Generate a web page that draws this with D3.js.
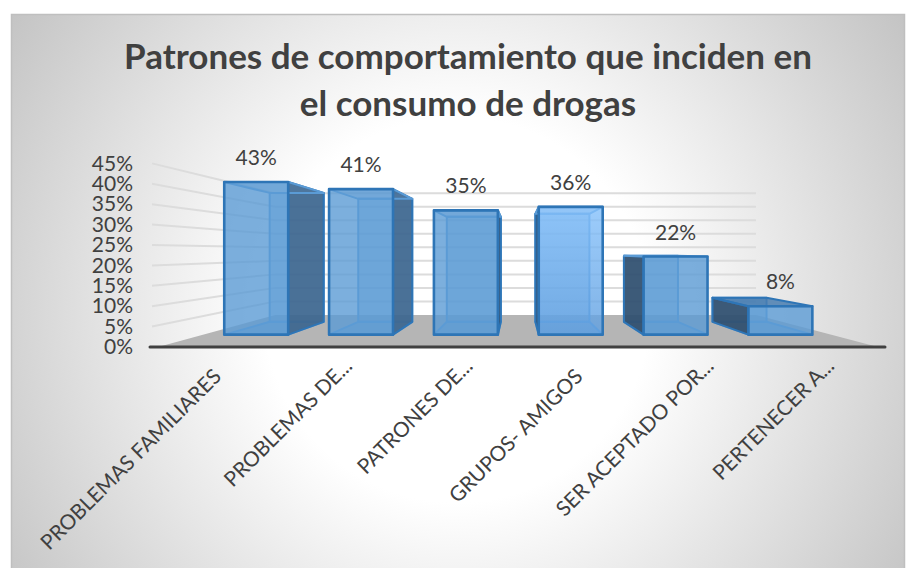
<!DOCTYPE html>
<html>
<head>
<meta charset="utf-8">
<script src="https://cdn.jsdelivr.net/npm/d3@7"></script>
<style>
  html, body { margin: 0; padding: 0; background: #fff; overflow: hidden; }
  svg { display: block; }
  text { font-family: Lato, sans-serif; fill: #404040; }
</style>
</head>
<body>
<div id="chart"></div>
<script>
const categories = ["PROBLEMAS FAMILIARES", "PROBLEMAS DE...", "PATRONES DE...", "GRUPOS- AMIGOS", "SER ACEPTADO POR...", "PERTENECER A..."];
const values = [43, 41, 35, 36, 22, 8];
const valueTicks = [0, 5, 10, 15, 20, 25, 30, 35, 40, 45];
const titleLines = ["Patrones de comportamiento que inciden en", "el consumo de drogas"];

const width = 911, height = 568;

const svg = d3.select("#chart").append("svg")
    .attr("width", width)
    .attr("height", height);

const defs = svg.append("defs");
const bg = defs.append("radialGradient").attr("id", "bg")
    .attr("gradientUnits", "userSpaceOnUse")
    .attr("cx", 457).attr("cy", 310).attr("r", 535);
bg.append("stop").attr("offset", "0.36").attr("stop-color", "#ffffff");
bg.append("stop").attr("offset", "1").attr("stop-color", "#c4c4c4");

// the middle bar catches the light, lighter at the top
const shine = defs.append("linearGradient").attr("id", "shine")
    .attr("x1", 0).attr("y1", 0).attr("x2", 0).attr("y2", 1);
shine.append("stop").attr("offset", "0").attr("stop-color", "#84c0fb");
shine.append("stop").attr("offset", "1").attr("stop-color", "#5f9fe0");

svg.append("rect")
    .attr("x", 11.5).attr("y", 14.5)
    .attr("width", 893).attr("height", 560)
    .attr("fill", "url(#bg)")
    .attr("stroke", "#bfbfbf")
    .attr("stroke-width", 1.5);

// fake 3D: everything is laid out on the front plane, then pulled to the vanishing point
const vp = { x: 517, y: 252 };
const depth = { barFront: 0.87, barBack: 0.735, wall: 0.662 };
const wall = { left: 152, right: 878 };

const x = d3.scaleBand()
    .domain(categories)
    .range([157, 880])
    .paddingInner(0.39)
    .paddingOuter(0.195);

const y = d3.scaleLinear()
    .domain([0, 45])
    .range([347, 163.4]);

function project(px, py, s) {
    return [vp.x + s * (px - vp.x), vp.y + s * (py - vp.y)];
}

const poly = d3.line();

// floor
svg.append("path")
    .attr("d", poly([
        project(wall.left + 6, y(0), 1),
        project(wall.right, y(0), 1),
        project(wall.right, y(0), depth.wall),
        project(wall.left, y(0), depth.wall),
    ]) + "Z")
    .attr("fill", "#b5b5b5");

// gridlines, side wall then back wall
const grid = svg.append("g")
    .attr("fill", "none")
    .attr("stroke", "#dcdcdc")
    .attr("stroke-width", 2);

valueTicks.filter(d => d > 0).forEach(d => {
    grid.append("path").attr("d", poly([
        project(wall.left, y(d), 1),
        project(wall.left, y(d), depth.wall),
        project(wall.right, y(d), depth.wall),
    ]));
});

// bars
const bars = svg.append("g").selectAll("g")
    .data(categories)
    .join("g");

bars.each(function (cat, i) {
    const g = d3.select(this);
    const x0 = x(cat), x1 = x0 + x.bandwidth();
    const yTop = y(values[i]), yBase = y(0);
    const f = (px, py) => project(px, py, depth.barFront);
    const b = (px, py) => project(px, py, depth.barBack);
    const stroke = "#2e75b6";

    // back face and bottom are only seen through the front
    const addFace = (pts, fill, opacity, lineColor, lineWidth) => {
        g.append("path")
            .attr("d", poly(pts) + "Z")
            .attr("fill", fill)
            .attr("fill-opacity", opacity)
            .attr("stroke", lineColor)
            .attr("stroke-width", lineWidth)
            .attr("stroke-linejoin", "round");
    };

    addFace([b(x0, yTop), b(x1, yTop), b(x1, yBase), b(x0, yBase)], "#5b9bd5", 0.45, "#5b9bd5", 2);
    addFace([f(x0, yBase), f(x1, yBase), b(x1, yBase), b(x0, yBase)], "#5b9bd5", 0.5, "#5b9bd5", 2);

    // side face towards the vanishing point
    const barMid = f((x0 + x1) / 2, 0)[0];
    const side = barMid < vp.x ? x1 : x0;
    const sideColor = i < 2 ? "#3b638b" : "#2c4a69";
    addFace([f(side, yTop), b(side, yTop), b(side, yBase), f(side, yBase)], sideColor, 0.88, stroke, 2);

    // top face
    addFace([f(x0, yTop), f(x1, yTop), b(x1, yTop), b(x0, yTop)], "#3f76ab", i === 5 ? 0.8 : 0.25, i === 5 ? stroke : "#5b9bd5", 2);

    // front face
    addFace([f(x0, yTop), f(x1, yTop), f(x1, yBase), f(x0, yBase)], i === 3 ? "url(#shine)" : "#5b9bd5", 0.8, stroke, 2.6);

    // value label
    g.append("text")
        .attr("x", f((x0 + x1) / 2, yTop)[0])
        .attr("y", f((x0 + x1) / 2, yTop)[1] - 17)
        .attr("text-anchor", "middle")
        .attr("font-size", 21)
        .text(values[i] + "%");
});

// y axis
const yAxis = svg.append("g")
    .attr("transform", "translate(138,0)")
    .call(d3.axisLeft(y).tickValues(valueTicks).tickSize(0).tickPadding(5).tickFormat(d => d + "%"));
yAxis.select(".domain").remove();
yAxis.selectAll("text")
    .attr("font-size", 21)
    .style("font-family", "Lato, sans-serif")
    .attr("fill", "#404040");

// x axis on the front plane, labels hang off the tick at 45 degrees
const xAxis = svg.append("g")
    .attr("transform", `translate(0,${y(0)})`)
    .call(d3.axisBottom(x).tickSize(0).tickPadding(0));
xAxis.select(".domain").remove();
xAxis.selectAll("text")
    .attr("font-size", 20.8)
    .style("font-family", "Lato, sans-serif")
    .attr("fill", "#404040")
    .attr("text-anchor", "end")
    .attr("dy", null)
    .attr("y", 0)
    .attr("dx", d => d.endsWith("...") ? 11 : -4) // truncated labels sit further up the line
    .attr("transform", "translate(8,28) rotate(-45)");

// axis line on top of the floor
svg.append("line")
    .attr("x1", 150).attr("x2", 885)
    .attr("y1", y(0)).attr("y2", y(0))
    .attr("stroke", "#404040")
    .attr("stroke-width", 3)
    .attr("stroke-linecap", "round");

// title
svg.append("g").selectAll("text")
    .data(titleLines)
    .join("text")
    .attr("x", 468)
    .attr("y", (d, i) => 69 + i * 47)
    .attr("text-anchor", "middle")
    .attr("font-size", 35)
    .attr("font-weight", 700)
    .text(d => d);
</script>
</body>
</html>
